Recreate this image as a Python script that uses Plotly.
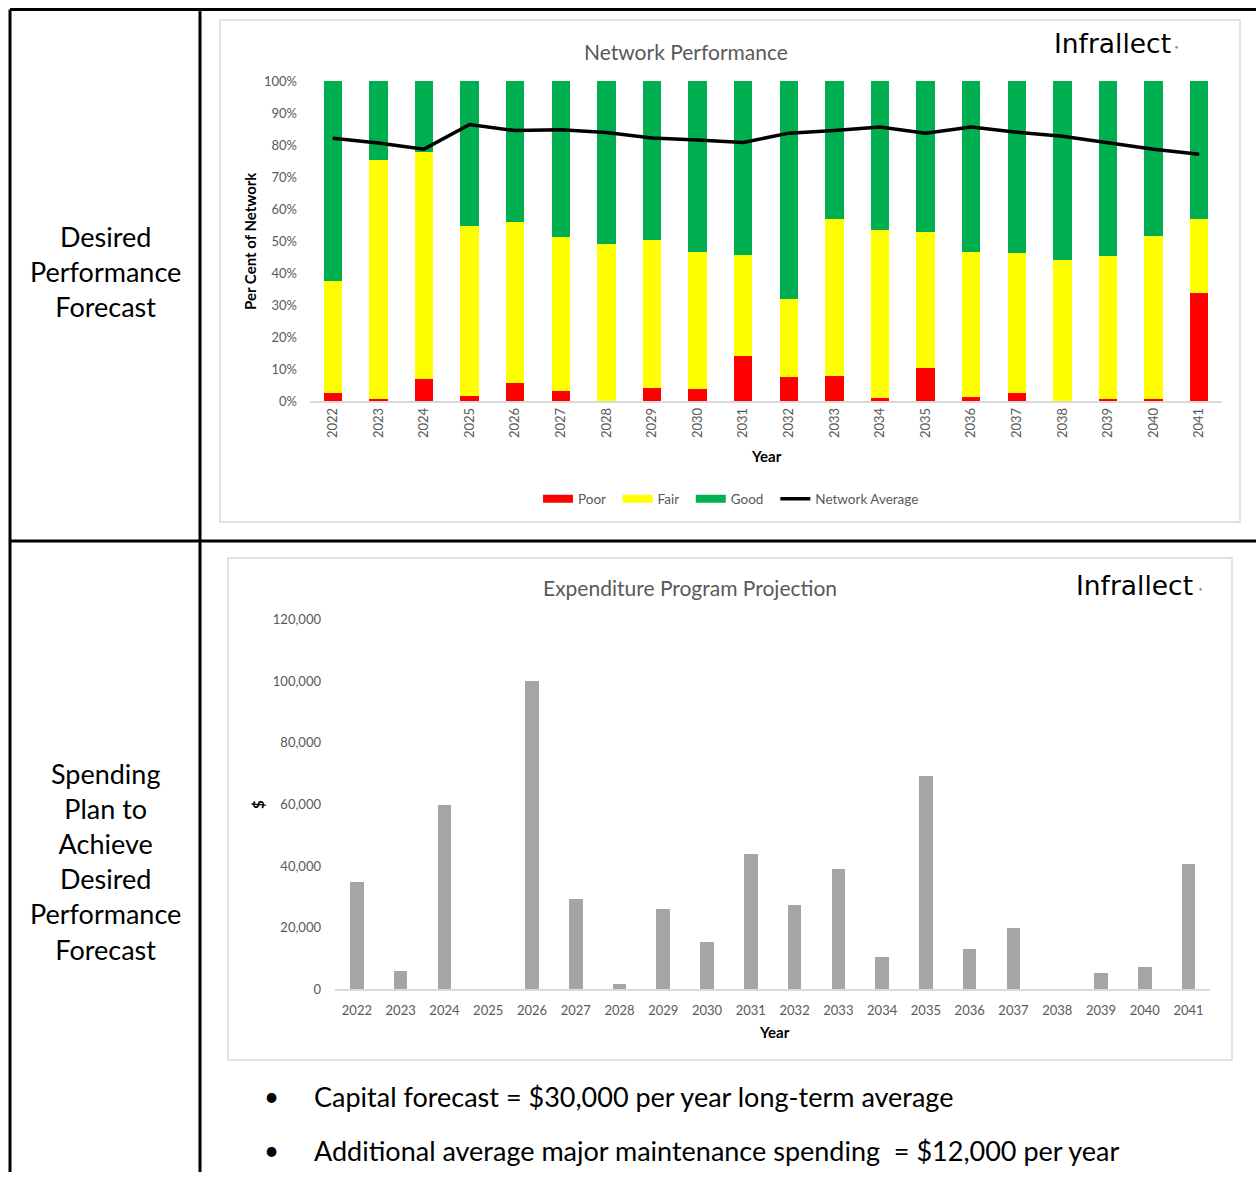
import plotly.graph_objects as go

W, H = 1256, 1180

years = [str(y) for y in range(2022, 2042)]

# Network performance (% of network)
poor = [2.4, 0.5, 6.8, 1.6, 5.5, 3.1, 0.0, 4.1, 3.6, 14.1,
        7.5, 7.8, 0.9, 10.2, 1.4, 2.4, 0.0, 0.6, 0.6, 33.8]
fair = [35.2, 74.7, 70.9, 53.0, 50.4, 48.3, 49.2, 46.2, 42.9, 31.5,
        24.3, 49.2, 52.5, 42.5, 45.1, 43.7, 44.1, 44.7, 51.1, 23.0]
good = [62.4, 24.8, 22.3, 45.4, 44.1, 48.6, 50.8, 49.7, 53.5, 54.4,
        68.2, 43.0, 46.6, 47.3, 53.5, 53.9, 55.9, 54.7, 48.3, 43.2]
network_avg = [82.1, 80.6, 78.7, 86.4, 84.5, 84.8, 83.9, 82.2, 81.6, 80.8,
               83.7, 84.5, 85.6, 83.7, 85.6, 84.0, 82.7, 80.8, 78.7, 77.1]

# Expenditure program projection ($)
spending = [35000, 6000, 60000, 0, 100000, 29200, 1800, 26000, 15200, 44000,
            27500, 39200, 10400, 69400, 13000, 19900, 0, 5400, 7300, 40800]

pct_ticks = list(range(0, 101, 10))
pct_labels = [f"{v}%" for v in pct_ticks]
usd_ticks = list(range(0, 120001, 20000))

RED, YELLOW, GREEN, GREY = "#FF0000", "#FFFF00", "#00B050", "#A5A5A5"
TXT = "#595959"
FONT = "Lato"

# the photographed page maps figure rows into a slightly shorter band
KY, OY = 1164 / 1180, 8


def px(x):
    return x / W


def py(y):
    yf = (y - OY) / KY
    return 1 - yf / H


fig = go.Figure()

NBSP = "\u00a0\u00a0"
for name, vals, col in [("Poor", poor, RED), ("Fair", fair, YELLOW), ("Good", good, GREEN)]:
    fig.add_trace(go.Bar(x=years, y=vals, name=name, marker=dict(color=col, line=dict(width=0)),
                         width=0.4, showlegend=False, xaxis="x", yaxis="y"))
    # wide legend swatch
    fig.add_trace(go.Scatter(x=[None], y=[None], mode="lines", name=name + NBSP,
                             line=dict(color=col, width=8), xaxis="x", yaxis="y"))

fig.add_trace(go.Scatter(x=years, y=network_avg, mode="lines", name="Network Average",
                         line=dict(color="black", width=3.5), xaxis="x", yaxis="y"))

fig.add_trace(go.Bar(x=years, y=spending, name="Expenditure", marker=dict(color=GREY, line=dict(width=0)),
                     width=0.31, showlegend=False, xaxis="x2", yaxis="y2"))

tickfont = dict(family=FONT, size=13, color=TXT)

fig.update_layout(
    width=W, height=H,
    autosize=False,
    margin=dict(l=0, r=0, t=0, b=0),
    paper_bgcolor="white", plot_bgcolor="white",
    barmode="stack",
    font=dict(family=FONT, color=TXT),
    xaxis=dict(domain=[px(310), px(1222)], type="category", tickangle=-90,
               showgrid=False, showline=True, linecolor="#D9D9D9", linewidth=1.5,
               ticks="", tickfont=tickfont, anchor="y", fixedrange=True),
    yaxis=dict(domain=[py(401), py(81)], range=[0, 100], tickvals=pct_ticks, ticktext=pct_labels,
               showgrid=False, showline=False, zeroline=False, ticks="", tickfont=tickfont,
               ticklabelstandoff=12, anchor="x", fixedrange=True),
    xaxis2=dict(domain=[px(335), px(1210.4)], type="category",
                showgrid=False, showline=True, linecolor="#D9D9D9", linewidth=1.5,
                ticks="", tickfont=tickfont, ticklabelstandoff=8, anchor="y2", fixedrange=True),
    yaxis2=dict(domain=[py(989.3), py(619.7)], range=[0, 120000], tickvals=usd_ticks,
                tickformat=",d", showgrid=False, showline=False, zeroline=False, ticks="",
                tickfont=tickfont, ticklabelstandoff=13, anchor="x2", fixedrange=True),
    legend=dict(orientation="h", x=px(731), xanchor="center", y=py(499), yanchor="middle",
                font=dict(family=FONT, size=13.5, color=TXT), itemwidth=30, traceorder="normal",
                bgcolor="rgba(0,0,0,0)", tracegroupgap=0),
)

# table grid lines and chart frames
line_k = dict(color="black", width=3)
top_y = 1 - 1.5 / H
shapes = [
    dict(type="line", x0=px(10), x1=1, y0=top_y, y1=top_y, line=line_k),
    dict(type="line", x0=px(10), x1=1, y0=py(541), y1=py(541), line=line_k),
    dict(type="line", x0=px(10), x1=px(10), y0=top_y, y1=0, line=line_k),
    dict(type="line", x0=px(200), x1=px(200), y0=top_y, y1=0, line=line_k),
    dict(type="rect", x0=px(220), x1=px(1240), y0=py(20), y1=py(522),
         line=dict(color="#D9D9D9", width=1.5), layer="below"),
    dict(type="rect", x0=px(228), x1=px(1232), y0=py(558), y1=py(1060),
         line=dict(color="#D9D9D9", width=1.5), layer="below"),
]
for s in shapes:
    s.update(xref="paper", yref="paper")
fig.update_layout(shapes=shapes)

ann = []


def add(text, x, y, size, color="black", xanchor="center", angle=0, family=FONT, align="center"):
    ann.append(dict(text=text, x=px(x), y=py(y), xref="paper", yref="paper", showarrow=False,
                    xanchor=xanchor, yanchor="middle", textangle=angle, align=align,
                    font=dict(family=family, size=size, color=color)))


add("Desired<br>Performance<br>Forecast", 105, 272, 27)
add("Spending<br>Plan to<br>Achieve<br>Desired<br>Performance<br>Forecast", 105, 862, 27)

add("Network Performance", 686, 52, 21, TXT)
add("Infrallect", 1052, 43, 26.5, "black", xanchor="left", family="DejaVu Sans")
add("●", 1176, 47, 5, "#7F7F7F")
add("<b>Per Cent of Network</b>", 250, 241, 15, "black", angle=-90)
add("<b>Year</b>", 766, 456, 15, "black")

add("Expenditure Program Projection", 690, 587, 21, TXT)
add("Infrallect", 1074, 585, 26.5, "black", xanchor="left", family="DejaVu Sans")
add("●", 1200, 589, 5, "#7F7F7F")
add("<b>$</b>", 258, 805, 15, "black", angle=-90)
add("<b>Year</b>", 774, 1032, 15, "black")

add("•", 271, 1096, 26)
add("•", 271, 1150, 26)
add("Capital forecast = $30,000 per year long-term average", 312, 1096, 27, xanchor="left")
add("Additional average major maintenance spending  = $12,000 per year", 312, 1150, 27, xanchor="left")

fig.update_layout(annotations=ann)

fig.write_html(
    "out.html",
    config={"displayModeBar": False, "responsive": False},
    post_script=(
        "document.documentElement.style.margin='0';"
        "document.body.style.margin='0';"
        "document.body.style.overflow='hidden';"
        "var gd=document.getElementById('{plot_id}');"
        "gd.style.position='fixed';gd.style.left='0px';gd.style.top='0px';"
    ),
)
